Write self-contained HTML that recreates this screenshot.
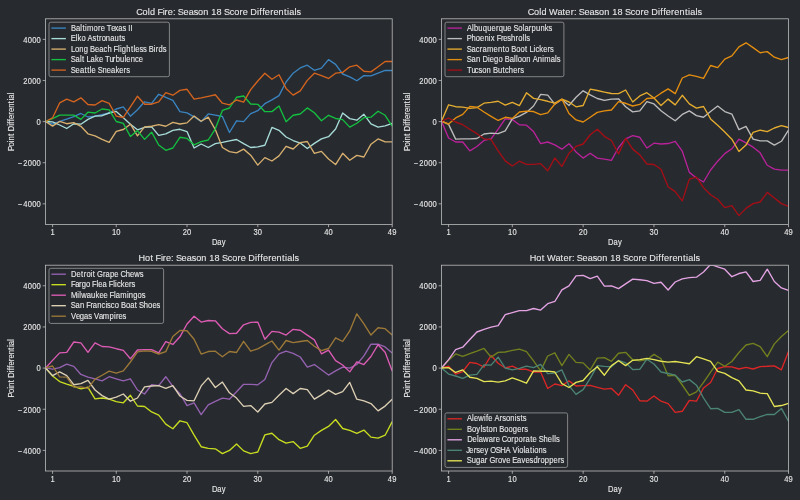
<!DOCTYPE html>
<html><head><meta charset="utf-8"><style>
html,body{margin:0;padding:0;background:#272a2f;width:800px;height:500px;overflow:hidden}
svg text{font-family:"Liberation Sans", sans-serif;stroke:#e8e8e8;stroke-width:0.1px}
</style></head><body>
<svg width="800" height="500" viewBox="0 0 800 500" style="display:block;will-change:transform"><rect width="800" height="500" fill="#272a2f"/><clipPath id="cTL"><rect x="45.5" y="18.8" width="346.70" height="205.60"/></clipPath><g fill="none" stroke-width="1.35" stroke-linejoin="round" stroke-linecap="butt" clip-path="url(#cTL)"><polyline points="45.50,121.48 52.58,124.20 59.65,121.48 66.73,119.08 73.80,116.68 80.88,113.48 87.95,117.00 95.03,116.20 102.10,114.60 109.18,113.00 116.26,109.00 123.33,106.92 130.41,116.20 137.48,109.80 144.56,101.80 151.63,103.40 158.71,94.28 165.78,97.48 172.86,100.48 179.93,111.68 187.01,112.80 194.09,116.80 201.16,121.60 208.24,113.92 215.31,115.20 222.39,116.48 229.46,132.48 236.54,120.80 243.61,121.60 250.69,113.60 257.77,110.72 264.84,103.68 271.92,99.92 278.99,95.60 286.07,82.00 293.14,73.20 300.22,67.92 307.29,65.20 314.37,70.32 321.44,68.08 328.52,59.60 335.60,64.40 342.67,74.00 349.75,76.88 356.82,80.72 363.90,75.60 370.97,75.92 378.05,73.20 385.12,70.48 392.20,70.48" stroke="#3a84c0"/><polyline points="45.50,121.48 52.58,121.80 59.65,125.00 66.73,128.52 73.80,123.72 80.88,124.20 87.95,119.40 95.03,116.20 102.10,115.72 109.18,113.00 116.26,111.40 123.33,117.80 130.41,124.20 137.48,129.80 144.56,127.40 151.63,126.92 158.71,135.40 165.78,133.80 172.86,130.40 179.93,129.28 187.01,131.52 194.09,148.00 201.16,144.00 208.24,147.52 215.31,143.68 222.39,142.40 229.46,140.80 236.54,139.52 243.61,143.68 250.69,147.52 257.77,146.88 264.84,145.28 271.92,127.40 278.99,130.28 286.07,137.00 293.14,140.52 300.22,143.08 307.29,148.52 314.37,143.40 321.44,138.92 328.52,136.68 335.60,129.00 342.67,113.00 349.75,118.60 356.82,120.20 363.90,114.28 370.97,123.88 378.05,127.08 385.12,125.80 392.20,123.40" stroke="#a8dcd8"/><polyline points="45.50,121.48 52.58,126.12 59.65,121.48 66.73,123.72 73.80,122.60 80.88,126.28 87.95,133.80 95.03,135.88 102.10,139.40 109.18,142.28 116.26,131.40 123.33,129.48 130.41,124.20 137.48,135.88 144.56,126.92 151.63,126.28 158.71,124.68 165.78,126.28 172.86,122.40 179.93,124.00 187.01,122.88 194.09,116.00 201.16,121.28 208.24,117.12 215.31,129.60 222.39,147.52 229.46,151.68 236.54,152.80 243.61,149.12 250.69,155.20 257.77,165.12 264.84,157.60 271.92,161.00 278.99,155.88 286.07,146.28 293.14,149.00 300.22,142.60 307.29,141.48 314.37,153.32 321.44,151.40 328.52,159.08 335.60,164.52 342.67,153.32 349.75,160.20 356.82,155.40 363.90,157.00 370.97,144.20 378.05,138.92 385.12,141.80 392.20,141.80" stroke="#d8b070"/><polyline points="45.50,121.48 52.58,118.60 59.65,115.08 66.73,115.08 73.80,115.08 80.88,119.40 87.95,112.20 95.03,113.00 102.10,109.00 109.18,109.80 116.26,121.48 123.33,123.40 130.41,136.52 137.48,130.60 144.56,139.40 151.63,132.20 158.71,145.00 165.78,150.28 172.86,148.00 179.93,137.28 187.01,138.40 194.09,144.80 201.16,141.60 208.24,140.00 215.31,128.80 222.39,110.40 229.46,108.00 236.54,97.28 243.61,96.00 250.69,104.00 257.77,104.32 264.84,111.68 271.92,111.60 278.99,106.00 286.07,121.68 293.14,115.28 300.22,114.00 307.29,107.92 314.37,112.72 321.44,120.72 328.52,115.28 335.60,118.48 342.67,119.60 349.75,127.12 356.82,123.28 363.90,117.68 370.97,117.20 378.05,111.28 385.12,115.28 392.20,126.16" stroke="#14c040"/><polyline points="45.50,121.48 52.58,117.80 59.65,102.92 66.73,99.08 73.80,101.80 80.88,97.80 87.95,104.52 95.03,105.00 102.10,100.68 109.18,103.40 116.26,116.20 123.33,117.48 130.41,106.76 137.48,96.20 144.56,104.20 151.63,104.20 158.71,101.80 165.78,92.68 172.86,95.20 179.93,90.40 187.01,89.28 194.09,99.20 201.16,97.92 208.24,96.32 215.31,94.72 222.39,103.20 229.46,104.80 236.54,100.00 243.61,102.08 250.69,89.60 257.77,81.00 264.84,73.20 271.92,79.28 278.99,74.80 286.07,88.40 293.14,95.12 300.22,90.80 307.29,80.40 314.37,73.20 321.44,75.60 328.52,78.48 335.60,73.20 342.67,72.40 349.75,66.80 356.82,65.20 363.90,71.28 370.97,71.92 378.05,66.80 385.12,61.52 392.20,61.52" stroke="#d4641e"/></g><rect x="45.5" y="18.8" width="346.70" height="205.60" fill="none" stroke="#bcbcbc" stroke-width="0.8"/><line x1="42.7" y1="39.36" x2="45.5" y2="39.36" stroke="#bcbcbc" stroke-width="0.8"/><g transform="translate(0 42.66) scale(1 1.08)"><text x="23.32 27.74 32.16 36.58" y="0" font-size="7.6" fill="#e8e8e8" >4000</text></g><line x1="42.7" y1="80.48" x2="45.5" y2="80.48" stroke="#bcbcbc" stroke-width="0.8"/><g transform="translate(0 83.78) scale(1 1.08)"><text x="23.32 27.74 32.16 36.58" y="0" font-size="7.6" fill="#e8e8e8" >2000</text></g><line x1="42.7" y1="121.60" x2="45.5" y2="121.60" stroke="#bcbcbc" stroke-width="0.8"/><g transform="translate(0 124.90) scale(1 1.08)"><text x="36.58" y="0" font-size="7.6" fill="#e8e8e8" >0</text></g><line x1="42.7" y1="162.72" x2="45.5" y2="162.72" stroke="#bcbcbc" stroke-width="0.8"/><g transform="translate(0 166.02) scale(1 1.08)"><text x="18.10 23.32 27.74 32.16 36.58" y="0" font-size="7.6" fill="#e8e8e8" >−2000</text></g><line x1="42.7" y1="203.84" x2="45.5" y2="203.84" stroke="#bcbcbc" stroke-width="0.8"/><g transform="translate(0 207.14) scale(1 1.08)"><text x="18.10 23.32 27.74 32.16 36.58" y="0" font-size="7.6" fill="#e8e8e8" >−4000</text></g><line x1="52.58" y1="224.4" x2="52.58" y2="227.20000000000002" stroke="#bcbcbc" stroke-width="0.8"/><g transform="translate(0 235.40) scale(1 1.08)"><text x="50.46" y="0" font-size="7.6" fill="#e8e8e8" >1</text></g><line x1="116.26" y1="224.4" x2="116.26" y2="227.20000000000002" stroke="#bcbcbc" stroke-width="0.8"/><g transform="translate(0 235.40) scale(1 1.08)"><text x="111.93 116.35" y="0" font-size="7.6" fill="#e8e8e8" >10</text></g><line x1="187.01" y1="224.4" x2="187.01" y2="227.20000000000002" stroke="#bcbcbc" stroke-width="0.8"/><g transform="translate(0 235.40) scale(1 1.08)"><text x="182.69 187.11" y="0" font-size="7.6" fill="#e8e8e8" >20</text></g><line x1="257.77" y1="224.4" x2="257.77" y2="227.20000000000002" stroke="#bcbcbc" stroke-width="0.8"/><g transform="translate(0 235.40) scale(1 1.08)"><text x="253.44 257.86" y="0" font-size="7.6" fill="#e8e8e8" >30</text></g><line x1="328.52" y1="224.4" x2="328.52" y2="227.20000000000002" stroke="#bcbcbc" stroke-width="0.8"/><g transform="translate(0 235.40) scale(1 1.08)"><text x="324.20 328.62" y="0" font-size="7.6" fill="#e8e8e8" >40</text></g><line x1="392.20" y1="224.4" x2="392.20" y2="227.20000000000002" stroke="#bcbcbc" stroke-width="0.8"/><g transform="translate(0 235.40) scale(1 1.08)"><text x="387.88 392.30" y="0" font-size="7.6" fill="#e8e8e8" >49</text></g><g transform="translate(0 244.90) scale(1 1.08)"><text x="211.92 217.36 221.75" y="0" font-size="7.6" fill="#e8e8e8" >Day</text></g><g transform="translate(0 14.50) scale(1 1.08)"><text x="136.36 142.57 147.80 150.08 155.32 157.52 162.85 164.61 167.87 172.92 175.65 177.84 183.56 188.67 193.65 198.12 203.31 208.54 211.25 216.55 221.79 223.99 229.68 234.27 239.55 242.81 247.78 250.29 256.93 259.30 262.24 264.87 270.16 273.43 278.45 283.99 287.03 289.22 294.45 296.52" y="0" font-size="9.1" fill="#e8e8e8" >Cold Fire: Season 18 Score Differentials</text></g><g transform="translate(13.50,121.60) rotate(-90)"><g transform="translate(0 0.00) scale(1 1.08)"><text x="-29.44 -24.80 -20.69 -18.79 -14.17 -11.71 -9.62 -4.08 -2.11 0.34 2.54 6.95 9.66 13.85 18.47 21.00 22.83 27.19" y="0" font-size="7.6" fill="#e8e8e8" >Point Differential</text></g></g><rect x="49.0" y="22.2" width="120.4" height="54.5" rx="1.8" fill="#272a2f" fill-opacity="0.8" stroke="#9a9a9a" stroke-width="0.8"/><line x1="51.4" y1="28.10" x2="65.9" y2="28.10" stroke="#3a84c0" stroke-width="1.35"/><g transform="translate(0 30.70) scale(1 1.08)"><text x="71.05 75.98 80.34 82.45 84.99 87.02 93.58 97.98 100.69 104.84 106.79 111.26 114.48 118.33 122.48 126.24 128.36 130.41" y="0" font-size="7.6" fill="#e8e8e8" >Baltimore Texas II</text></g><line x1="51.4" y1="38.60" x2="65.9" y2="38.60" stroke="#a8dcd8" stroke-width="1.35"/><g transform="translate(0 41.20) scale(1 1.08)"><text x="70.86 75.71 77.63 81.55 85.59 87.59 92.41 96.42 99.00 101.70 105.88 110.20 114.53 119.15 121.48" y="0" font-size="7.6" fill="#e8e8e8" >Elko Astronauts</text></g><line x1="51.4" y1="49.10" x2="65.9" y2="49.10" stroke="#d8b070" stroke-width="1.35"/><g transform="translate(0 51.70) scale(1 1.08)"><text x="71.02 75.08 79.28 83.69 88.05 90.06 95.00 99.26 103.51 107.41 111.77 113.60 118.04 119.97 121.87 126.28 130.90 133.43 135.27 139.42 143.04 146.80 148.80 153.84 155.81 158.60 162.70" y="0" font-size="7.6" fill="#e8e8e8" >Long Beach Flightless Birds</text></g><line x1="51.4" y1="59.60" x2="65.9" y2="59.60" stroke="#14c040" stroke-width="1.35"/><g transform="translate(0 62.20) scale(1 1.08)"><text x="70.87 75.62 79.98 82.10 84.56 86.54 90.61 94.96 98.89 102.94 104.90 109.43 112.85 115.63 120.04 124.47 126.30 130.64 134.96 138.79" y="0" font-size="7.6" fill="#e8e8e8" >Salt Lake Turbulence</text></g><line x1="51.4" y1="70.10" x2="65.9" y2="70.10" stroke="#d4641e" stroke-width="1.35"/><g transform="translate(0 72.70) scale(1 1.08)"><text x="70.87 75.63 79.89 84.44 87.16 89.70 91.53 95.83 97.66 102.48 106.82 111.08 115.44 119.37 123.53 126.14" y="0" font-size="7.6" fill="#e8e8e8" >Seattle Sneakers</text></g><clipPath id="cTR"><rect x="441.5" y="18.8" width="347.00" height="205.60"/></clipPath><g fill="none" stroke-width="1.35" stroke-linejoin="round" stroke-linecap="butt" clip-path="url(#cTR)"><polyline points="441.50,121.20 448.58,138.00 455.66,142.00 462.74,142.00 469.83,150.80 476.91,146.48 483.99,140.40 491.07,138.80 498.15,129.20 505.23,118.80 512.32,119.60 519.40,124.72 526.48,125.20 533.56,131.60 540.64,143.60 547.72,142.00 554.81,144.88 561.89,149.20 568.97,143.68 576.05,152.00 583.13,158.08 590.21,153.28 597.30,158.08 604.38,159.20 611.46,160.32 618.54,147.52 625.62,138.88 632.70,135.68 639.79,137.28 646.87,148.00 653.95,143.20 661.03,144.00 668.11,143.52 675.19,141.28 682.28,151.20 689.36,172.40 696.44,178.00 703.52,182.00 710.60,170.00 717.68,161.20 724.77,153.60 731.85,148.80 738.93,139.20 746.01,142.88 753.09,147.20 760.17,152.80 767.26,165.28 774.34,169.12 781.42,170.08 788.50,170.08" stroke="#b8229a"/><polyline points="441.50,121.20 448.58,124.40 455.66,139.12 462.74,138.80 469.83,138.80 476.91,138.48 483.99,134.00 491.07,133.20 498.15,133.68 505.23,130.80 512.32,118.80 519.40,116.08 526.48,112.40 533.56,106.00 540.64,94.40 547.72,95.20 554.81,104.20 561.89,99.50 568.97,105.52 576.05,97.20 583.13,90.80 590.21,94.80 597.30,98.48 604.38,100.40 611.46,99.12 618.54,98.80 625.62,106.80 632.70,111.92 639.79,110.80 646.87,101.68 653.95,103.92 661.03,110.80 668.11,116.00 675.19,120.80 682.28,114.40 689.36,110.88 696.44,115.68 703.52,117.28 710.60,111.52 717.68,106.08 724.77,111.52 731.85,114.08 738.93,129.60 746.01,126.40 753.09,139.20 760.17,140.80 767.26,140.80 774.34,145.12 781.42,141.28 788.50,130.08" stroke="#bcbcbc"/><polyline points="441.50,121.12 448.58,104.80 455.66,106.72 462.74,107.20 469.83,108.32 476.91,107.68 483.99,103.20 491.07,102.40 498.15,101.28 505.23,105.12 512.32,102.40 519.40,105.60 526.48,92.80 533.56,98.40 540.64,99.68 547.72,101.28 554.81,103.20 561.89,99.20 568.97,102.00 576.05,106.80 583.13,105.52 590.21,89.20 597.30,90.48 604.38,92.08 611.46,93.52 618.54,93.68 625.62,90.00 632.70,102.00 639.79,95.92 646.87,92.72 653.95,98.00 661.03,105.52 668.11,99.12 675.19,104.88 682.28,95.28 689.36,103.92 696.44,108.08 703.52,106.48 710.60,118.88 717.68,125.28 724.77,132.00 731.85,139.20 738.93,151.52 746.01,145.12 753.09,132.32 760.17,130.08 767.26,131.68 774.34,128.00 781.42,125.60 788.50,127.52" stroke="#e4ac30"/><polyline points="441.50,121.12 448.58,124.00 455.66,117.92 462.74,114.40 469.83,106.40 476.91,107.20 483.99,112.00 491.07,116.32 498.15,120.48 505.23,117.28 512.32,118.40 519.40,112.00 526.48,111.20 533.56,111.52 540.64,114.72 547.72,112.80 554.81,104.00 561.89,99.20 568.97,113.52 576.05,119.92 583.13,122.00 590.21,117.20 597.30,112.40 604.38,110.80 611.46,110.00 618.54,101.68 625.62,103.28 632.70,106.00 639.79,104.40 646.87,98.48 653.95,98.00 661.03,93.20 668.11,88.88 675.19,93.68 682.28,78.00 689.36,74.80 696.44,76.40 703.52,78.32 710.60,65.52 717.68,67.60 724.77,59.12 731.85,55.92 738.93,46.80 746.01,42.80 753.09,47.60 760.17,52.72 767.26,51.60 774.34,57.20 781.42,59.60 788.50,57.52" stroke="#e48e10"/><polyline points="441.50,121.20 448.58,118.00 455.66,122.00 462.74,124.72 469.83,129.20 476.91,133.68 483.99,138.80 491.07,139.60 498.15,150.80 505.23,160.88 512.32,166.00 519.40,161.20 526.48,164.40 533.56,164.40 540.64,163.60 547.72,170.80 554.81,158.00 561.89,166.32 568.97,153.28 576.05,146.40 583.13,144.00 590.21,134.72 597.30,129.28 604.38,136.32 611.46,140.48 618.54,153.92 625.62,138.40 632.70,149.12 639.79,154.88 646.87,164.00 653.95,164.48 661.03,169.28 668.11,186.80 675.19,191.60 682.28,200.88 689.36,179.12 696.44,177.20 703.52,187.60 710.60,194.80 717.68,199.28 724.77,207.60 731.85,205.68 738.93,215.60 746.01,208.40 753.09,203.60 760.17,202.00 767.26,192.40 774.34,198.00 781.42,203.60 788.50,206.32" stroke="#a40e16"/></g><rect x="441.5" y="18.8" width="347.00" height="205.60" fill="none" stroke="#bcbcbc" stroke-width="0.8"/><line x1="438.7" y1="39.36" x2="441.5" y2="39.36" stroke="#bcbcbc" stroke-width="0.8"/><g transform="translate(0 42.66) scale(1 1.08)"><text x="419.32 423.74 428.16 432.58" y="0" font-size="7.6" fill="#e8e8e8" >4000</text></g><line x1="438.7" y1="80.48" x2="441.5" y2="80.48" stroke="#bcbcbc" stroke-width="0.8"/><g transform="translate(0 83.78) scale(1 1.08)"><text x="419.32 423.74 428.16 432.58" y="0" font-size="7.6" fill="#e8e8e8" >2000</text></g><line x1="438.7" y1="121.60" x2="441.5" y2="121.60" stroke="#bcbcbc" stroke-width="0.8"/><g transform="translate(0 124.90) scale(1 1.08)"><text x="432.58" y="0" font-size="7.6" fill="#e8e8e8" >0</text></g><line x1="438.7" y1="162.72" x2="441.5" y2="162.72" stroke="#bcbcbc" stroke-width="0.8"/><g transform="translate(0 166.02) scale(1 1.08)"><text x="414.10 419.32 423.74 428.16 432.58" y="0" font-size="7.6" fill="#e8e8e8" >−2000</text></g><line x1="438.7" y1="203.84" x2="441.5" y2="203.84" stroke="#bcbcbc" stroke-width="0.8"/><g transform="translate(0 207.14) scale(1 1.08)"><text x="414.10 419.32 423.74 428.16 432.58" y="0" font-size="7.6" fill="#e8e8e8" >−4000</text></g><line x1="448.58" y1="224.4" x2="448.58" y2="227.20000000000002" stroke="#bcbcbc" stroke-width="0.8"/><g transform="translate(0 235.40) scale(1 1.08)"><text x="446.47" y="0" font-size="7.6" fill="#e8e8e8" >1</text></g><line x1="512.32" y1="224.4" x2="512.32" y2="227.20000000000002" stroke="#bcbcbc" stroke-width="0.8"/><g transform="translate(0 235.40) scale(1 1.08)"><text x="507.99 512.41" y="0" font-size="7.6" fill="#e8e8e8" >10</text></g><line x1="583.13" y1="224.4" x2="583.13" y2="227.20000000000002" stroke="#bcbcbc" stroke-width="0.8"/><g transform="translate(0 235.40) scale(1 1.08)"><text x="578.81 583.23" y="0" font-size="7.6" fill="#e8e8e8" >20</text></g><line x1="653.95" y1="224.4" x2="653.95" y2="227.20000000000002" stroke="#bcbcbc" stroke-width="0.8"/><g transform="translate(0 235.40) scale(1 1.08)"><text x="649.63 654.04" y="0" font-size="7.6" fill="#e8e8e8" >30</text></g><line x1="724.77" y1="224.4" x2="724.77" y2="227.20000000000002" stroke="#bcbcbc" stroke-width="0.8"/><g transform="translate(0 235.40) scale(1 1.08)"><text x="720.44 724.86" y="0" font-size="7.6" fill="#e8e8e8" >40</text></g><line x1="788.50" y1="224.4" x2="788.50" y2="227.20000000000002" stroke="#bcbcbc" stroke-width="0.8"/><g transform="translate(0 235.40) scale(1 1.08)"><text x="784.18 788.60" y="0" font-size="7.6" fill="#e8e8e8" >49</text></g><g transform="translate(0 244.90) scale(1 1.08)"><text x="608.07 613.51 617.90" y="0" font-size="7.6" fill="#e8e8e8" >Day</text></g><g transform="translate(0 14.50) scale(1 1.08)"><text x="527.70 533.92 539.14 541.43 546.66 549.07 557.51 562.43 565.36 570.65 574.02 576.60 578.80 584.51 589.63 594.61 599.07 604.26 609.50 612.20 617.51 622.75 624.95 630.64 635.23 640.50 643.77 648.74 651.25 657.89 660.26 663.19 665.83 671.12 674.38 679.40 684.95 687.99 690.18 695.41 697.48" y="0" font-size="9.1" fill="#e8e8e8" >Cold Water: Season 18 Score Differentials</text></g><g transform="translate(409.50,121.60) rotate(-90)"><g transform="translate(0 0.00) scale(1 1.08)"><text x="-29.44 -24.80 -20.69 -18.79 -14.17 -11.71 -9.62 -4.08 -2.11 0.34 2.54 6.95 9.66 13.85 18.47 21.00 22.83 27.19" y="0" font-size="7.6" fill="#e8e8e8" >Point Differential</text></g></g><rect x="445.0" y="22.2" width="118.9" height="54.5" rx="1.8" fill="#272a2f" fill-opacity="0.8" stroke="#9a9a9a" stroke-width="0.8"/><line x1="447.4" y1="28.10" x2="461.9" y2="28.10" stroke="#b8229a" stroke-width="1.35"/><g transform="translate(0 30.70) scale(1 1.08)"><text x="467.04 472.07 473.97 478.37 482.78 487.18 491.52 495.93 498.71 503.00 507.33 511.63 513.46 518.21 522.57 524.39 528.79 531.58 535.98 540.38 544.81 548.63" y="0" font-size="7.6" fill="#e8e8e8" >Albuquerque Solarpunks</text></g><line x1="447.4" y1="38.60" x2="461.9" y2="38.60" stroke="#bcbcbc" stroke-width="1.35"/><g transform="translate(0 41.20) scale(1 1.08)"><text x="466.76 471.47 475.80 480.06 484.40 488.83 490.79 494.80 496.63 501.11 503.32 507.33 511.12 515.60 518.30 522.51 524.44 526.16" y="0" font-size="7.6" fill="#e8e8e8" >Phoenix Freshrolls</text></g><line x1="447.4" y1="49.10" x2="461.9" y2="49.10" stroke="#e4ac30" stroke-width="1.35"/><g transform="translate(0 51.70) scale(1 1.08)"><text x="466.87 471.62 475.87 479.84 482.55 487.01 493.58 497.91 502.53 504.96 509.25 511.25 516.18 520.43 524.97 527.44 529.42 533.59 535.40 539.32 543.26 547.42 550.02" y="0" font-size="7.6" fill="#e8e8e8" >Sacramento Boot Lickers</text></g><line x1="447.4" y1="59.60" x2="461.9" y2="59.60" stroke="#e48e10" stroke-width="1.35"/><g transform="translate(0 62.20) scale(1 1.08)"><text x="466.87 471.62 475.95 480.31 482.40 487.94 489.77 494.11 498.44 502.72 504.73 509.66 514.02 515.95 517.77 522.02 526.35 530.71 532.71 537.70 542.14 544.16 550.73 555.09 556.80" y="0" font-size="7.6" fill="#e8e8e8" >San Diego Balloon Animals</text></g><line x1="447.4" y1="70.10" x2="461.9" y2="70.10" stroke="#a40e16" stroke-width="1.35"/><g transform="translate(0 72.70) scale(1 1.08)"><text x="467.00 471.53 474.80 478.52 482.23 486.56 490.92 492.93 497.93 502.55 504.98 508.87 513.21 517.62 520.22" y="0" font-size="7.6" fill="#e8e8e8" >Tucson Butchers</text></g><clipPath id="cBL"><rect x="45.5" y="265.2" width="346.70" height="205.80"/></clipPath><g fill="none" stroke-width="1.35" stroke-linejoin="round" stroke-linecap="butt" clip-path="url(#cBL)"><polyline points="45.50,367.92 52.58,369.20 59.65,367.60 66.73,364.08 73.80,366.32 80.88,374.48 87.95,377.20 95.03,378.80 102.10,380.88 109.18,376.72 116.26,378.80 123.33,380.88 130.41,378.80 137.48,390.00 144.56,394.00 151.63,384.72 158.71,385.68 165.78,376.72 172.86,386.40 179.93,393.60 187.01,405.60 194.09,402.88 201.16,414.72 208.24,404.80 215.31,401.28 222.39,398.08 229.46,399.20 236.54,391.68 243.61,384.32 250.69,384.32 257.77,384.80 264.84,379.52 271.92,362.60 278.99,353.80 286.07,351.08 293.14,353.32 300.22,357.00 307.29,367.08 314.37,364.52 321.44,369.80 328.52,375.08 335.60,370.92 342.67,367.08 349.75,368.20 356.82,364.52 363.90,355.88 370.97,344.20 378.05,344.20 385.12,346.92 392.20,353.00" stroke="#9462b0"/><polyline points="45.50,367.92 52.58,376.08 59.65,381.52 66.73,384.08 73.80,386.32 80.88,388.88 87.95,387.28 95.03,398.80 102.10,398.00 109.18,399.12 116.26,401.68 123.33,402.80 130.41,395.28 137.48,406.00 144.56,406.48 151.63,411.92 158.71,415.12 165.78,424.08 172.86,428.80 179.93,420.80 187.01,422.72 194.09,435.20 201.16,446.72 208.24,448.32 215.31,448.80 222.39,453.60 229.46,450.40 236.54,444.00 243.61,450.88 250.69,453.60 257.77,452.00 264.84,434.88 271.92,433.28 278.99,439.68 286.07,443.20 293.14,441.60 300.22,448.32 307.29,446.08 314.37,435.20 321.44,430.40 328.52,426.40 335.60,419.52 342.67,428.48 349.75,430.40 356.82,433.28 363.90,430.08 370.97,437.12 378.05,438.08 385.12,435.20 392.20,421.60" stroke="#c8dc20"/><polyline points="45.50,367.92 52.58,360.40 59.65,352.88 66.73,352.40 73.80,342.00 80.88,342.80 87.95,352.40 95.03,342.80 102.10,346.48 109.18,346.80 116.26,348.72 123.33,350.32 130.41,358.80 137.48,350.00 144.56,349.68 151.63,349.68 158.71,352.88 165.78,341.68 172.86,344.48 179.93,336.80 187.01,324.00 194.09,316.32 201.16,322.08 208.24,320.48 215.31,320.80 222.39,328.80 229.46,333.60 236.54,333.28 243.61,324.80 250.69,322.40 257.77,322.08 264.84,339.20 271.92,331.40 278.99,332.20 286.07,335.08 293.14,329.32 300.22,330.28 307.29,335.08 314.37,339.88 321.44,353.80 328.52,350.12 335.60,360.68 342.67,365.00 349.75,371.88 356.82,361.80 363.90,364.52 370.97,356.52 378.05,344.68 385.12,352.20 392.20,370.92" stroke="#dc5cb4"/><polyline points="45.50,367.92 52.58,375.60 59.65,371.92 66.73,375.60 73.80,384.72 80.88,383.60 87.95,380.40 95.03,390.00 102.10,395.60 109.18,399.12 116.26,397.20 123.33,394.00 130.41,401.20 137.48,398.00 144.56,386.80 151.63,386.00 158.71,385.68 165.78,388.40 172.86,385.60 179.93,396.00 187.01,400.32 194.09,400.80 201.16,385.92 208.24,377.92 215.31,387.52 222.39,382.08 229.46,392.80 236.54,398.08 243.61,406.40 250.69,405.60 257.77,412.00 264.84,404.00 271.92,402.40 278.99,395.20 286.07,388.48 293.14,393.60 300.22,388.48 307.29,389.60 314.37,399.20 321.44,394.88 328.52,390.08 335.60,394.40 342.67,391.68 349.75,382.40 356.82,399.20 363.90,400.80 370.97,403.52 378.05,410.88 385.12,406.08 392.20,399.20" stroke="#dccfb4"/><polyline points="45.50,367.92 52.58,366.00 59.65,376.88 66.73,377.20 73.80,387.12 80.88,386.80 87.95,388.40 95.03,379.12 102.10,375.28 109.18,371.12 116.26,373.20 123.33,370.80 130.41,362.00 137.48,351.92 144.56,350.80 151.63,351.28 158.71,354.00 165.78,351.60 172.86,336.48 179.93,330.40 187.01,330.72 194.09,339.20 201.16,354.08 208.24,351.52 215.31,351.20 222.39,356.80 229.46,351.52 236.54,352.48 243.61,341.28 250.69,351.20 257.77,348.80 264.84,344.80 271.92,341.00 278.99,350.12 286.07,340.52 293.14,342.60 300.22,341.48 307.29,340.52 314.37,346.28 321.44,350.60 328.52,348.52 335.60,337.80 342.67,341.48 349.75,330.92 356.82,313.80 363.90,323.88 370.97,335.08 378.05,327.72 385.12,328.68 392.20,335.08" stroke="#9c7838"/></g><rect x="45.5" y="265.2" width="346.70" height="205.80" fill="none" stroke="#bcbcbc" stroke-width="0.8"/><line x1="42.7" y1="285.78" x2="45.5" y2="285.78" stroke="#bcbcbc" stroke-width="0.8"/><g transform="translate(0 289.08) scale(1 1.08)"><text x="23.32 27.74 32.16 36.58" y="0" font-size="7.6" fill="#e8e8e8" >4000</text></g><line x1="42.7" y1="326.94" x2="45.5" y2="326.94" stroke="#bcbcbc" stroke-width="0.8"/><g transform="translate(0 330.24) scale(1 1.08)"><text x="23.32 27.74 32.16 36.58" y="0" font-size="7.6" fill="#e8e8e8" >2000</text></g><line x1="42.7" y1="368.10" x2="45.5" y2="368.10" stroke="#bcbcbc" stroke-width="0.8"/><g transform="translate(0 371.40) scale(1 1.08)"><text x="36.58" y="0" font-size="7.6" fill="#e8e8e8" >0</text></g><line x1="42.7" y1="409.26" x2="45.5" y2="409.26" stroke="#bcbcbc" stroke-width="0.8"/><g transform="translate(0 412.56) scale(1 1.08)"><text x="18.10 23.32 27.74 32.16 36.58" y="0" font-size="7.6" fill="#e8e8e8" >−2000</text></g><line x1="42.7" y1="450.42" x2="45.5" y2="450.42" stroke="#bcbcbc" stroke-width="0.8"/><g transform="translate(0 453.72) scale(1 1.08)"><text x="18.10 23.32 27.74 32.16 36.58" y="0" font-size="7.6" fill="#e8e8e8" >−4000</text></g><line x1="52.58" y1="471.0" x2="52.58" y2="473.8" stroke="#bcbcbc" stroke-width="0.8"/><g transform="translate(0 482.00) scale(1 1.08)"><text x="50.46" y="0" font-size="7.6" fill="#e8e8e8" >1</text></g><line x1="116.26" y1="471.0" x2="116.26" y2="473.8" stroke="#bcbcbc" stroke-width="0.8"/><g transform="translate(0 482.00) scale(1 1.08)"><text x="111.93 116.35" y="0" font-size="7.6" fill="#e8e8e8" >10</text></g><line x1="187.01" y1="471.0" x2="187.01" y2="473.8" stroke="#bcbcbc" stroke-width="0.8"/><g transform="translate(0 482.00) scale(1 1.08)"><text x="182.69 187.11" y="0" font-size="7.6" fill="#e8e8e8" >20</text></g><line x1="257.77" y1="471.0" x2="257.77" y2="473.8" stroke="#bcbcbc" stroke-width="0.8"/><g transform="translate(0 482.00) scale(1 1.08)"><text x="253.44 257.86" y="0" font-size="7.6" fill="#e8e8e8" >30</text></g><line x1="328.52" y1="471.0" x2="328.52" y2="473.8" stroke="#bcbcbc" stroke-width="0.8"/><g transform="translate(0 482.00) scale(1 1.08)"><text x="324.20 328.62" y="0" font-size="7.6" fill="#e8e8e8" >40</text></g><line x1="392.20" y1="471.0" x2="392.20" y2="473.8" stroke="#bcbcbc" stroke-width="0.8"/><g transform="translate(0 482.00) scale(1 1.08)"><text x="387.88 392.30" y="0" font-size="7.6" fill="#e8e8e8" >49</text></g><g transform="translate(0 491.50) scale(1 1.08)"><text x="211.92 217.36 221.75" y="0" font-size="7.6" fill="#e8e8e8" >Day</text></g><g transform="translate(0 260.90) scale(1 1.08)"><text x="138.53 144.97 150.41 153.37 155.58 160.90 162.66 165.92 170.97 173.70 175.90 181.61 186.73 191.71 196.17 201.36 206.59 209.30 214.60 219.85 222.04 227.74 232.32 237.60 240.86 245.83 248.35 254.99 257.36 260.29 262.93 268.22 271.48 276.50 282.04 285.09 287.28 292.51 294.57" y="0" font-size="9.1" fill="#e8e8e8" >Hot Fire: Season 18 Score Differentials</text></g><g transform="translate(13.50,368.10) rotate(-90)"><g transform="translate(0 0.00) scale(1 1.08)"><text x="-29.44 -24.80 -20.69 -18.79 -14.17 -11.71 -9.62 -4.08 -2.11 0.34 2.54 6.95 9.66 13.85 18.47 21.00 22.83 27.19" y="0" font-size="7.6" fill="#e8e8e8" >Point Differential</text></g></g><rect x="49.0" y="268.3" width="114.6" height="55.1" rx="1.8" fill="#272a2f" fill-opacity="0.8" stroke="#9a9a9a" stroke-width="0.8"/><line x1="51.4" y1="274.20" x2="65.9" y2="274.20" stroke="#9462b0" stroke-width="1.35"/><g transform="translate(0 276.80) scale(1 1.08)"><text x="71.13 76.57 81.12 83.70 86.41 90.61 92.73 95.19 97.09 102.89 105.60 109.93 114.27 118.57 120.41 125.67 130.00 134.35 139.84" y="0" font-size="7.6" fill="#e8e8e8" >Detroit Grape Chews</text></g><line x1="51.4" y1="284.70" x2="65.9" y2="284.70" stroke="#c8dc20" stroke-width="1.35"/><g transform="translate(0 287.30) scale(1 1.08)"><text x="70.88 75.21 78.97 81.76 85.96 90.25 92.08 96.52 98.35 102.62 106.91 108.74 113.18 115.11 116.93 120.85 124.78 128.95 131.55" y="0" font-size="7.6" fill="#e8e8e8" >Fargo Flea Flickers</text></g><line x1="51.4" y1="295.20" x2="65.9" y2="295.20" stroke="#dc5cb4" stroke-width="1.35"/><g transform="translate(0 297.80) scale(1 1.08)"><text x="71.03 77.31 79.24 81.15 86.74 91.07 95.50 99.43 103.45 107.75 109.59 114.03 115.85 120.31 126.97 128.87 133.27 137.60 141.75" y="0" font-size="7.6" fill="#e8e8e8" >Milwaukee Flamingos</text></g><line x1="51.4" y1="305.70" x2="65.9" y2="305.70" stroke="#dccfb4" stroke-width="1.35"/><g transform="translate(0 308.30) scale(1 1.08)"><text x="70.87 75.62 79.95 84.31 86.15 90.63 92.83 97.16 101.48 105.41 107.13 110.85 114.67 118.95 120.96 125.89 130.14 134.68 137.15 138.98 143.80 148.13 152.39 156.55" y="0" font-size="7.6" fill="#e8e8e8" >San Francisco Boat Shoes</text></g><line x1="51.4" y1="316.20" x2="65.9" y2="316.20" stroke="#9c7838" stroke-width="1.35"/><g transform="translate(0 318.80) scale(1 1.08)"><text x="71.04 75.97 79.77 84.11 88.26 92.01 94.01 98.94 102.85 109.49 113.93 115.90 118.62 122.62" y="0" font-size="7.6" fill="#e8e8e8" >Vegas Vampires</text></g><clipPath id="cBR"><rect x="441.5" y="265.2" width="347.00" height="205.80"/></clipPath><g fill="none" stroke-width="1.35" stroke-linejoin="round" stroke-linecap="butt" clip-path="url(#cBR)"><polyline points="441.50,368.00 448.58,366.08 455.66,374.08 462.74,371.52 469.83,362.40 476.91,363.52 483.99,367.20 491.07,355.52 498.15,363.20 505.23,368.00 512.32,366.08 519.40,369.28 526.48,369.28 533.56,372.00 540.64,372.00 547.72,388.48 554.81,384.00 561.89,385.60 568.97,380.88 576.05,386.00 583.13,385.68 590.21,385.36 597.30,387.28 604.38,389.20 611.46,388.40 618.54,395.28 625.62,384.72 632.70,390.00 639.79,400.72 646.87,401.20 653.95,395.92 661.03,401.20 668.11,403.60 675.19,412.40 682.28,411.28 689.36,400.40 696.44,401.20 703.52,387.92 710.60,382.48 717.68,368.52 724.77,366.60 731.85,366.92 738.93,369.00 746.01,367.40 753.09,369.00 760.17,366.60 767.26,366.28 774.34,365.80 781.42,369.80 788.50,351.40" stroke="#dc2626"/><polyline points="441.50,368.00 448.58,360.32 455.66,353.92 462.74,356.48 469.83,353.60 476.91,351.20 483.99,348.48 491.07,357.12 498.15,352.32 505.23,352.00 512.32,350.40 519.40,349.12 526.48,351.68 533.56,360.80 540.64,370.88 547.72,356.00 554.81,352.80 561.89,365.60 568.97,354.40 576.05,362.40 583.13,362.88 590.21,369.92 597.30,358.08 604.38,357.60 611.46,361.28 618.54,353.28 625.62,352.32 632.70,359.68 639.79,360.80 646.87,359.68 653.95,354.40 661.03,358.72 668.11,375.72 675.19,375.24 682.28,385.00 689.36,395.40 696.44,391.88 703.52,382.28 710.60,372.20 717.68,362.12 724.77,366.28 731.85,361.48 738.93,352.52 746.01,345.00 753.09,343.40 760.17,346.60 767.26,356.68 774.34,343.88 781.42,336.52 788.50,330.60" stroke="#72801e"/><polyline points="441.50,368.00 448.58,359.68 455.66,349.60 462.74,347.20 469.83,339.52 476.91,332.00 483.99,329.28 491.07,327.20 498.15,325.60 505.23,314.60 512.32,312.68 519.40,310.60 526.48,310.60 533.56,308.52 540.64,310.12 547.72,303.72 554.81,301.48 561.89,289.80 568.97,285.80 576.05,275.88 583.13,275.40 590.21,278.60 597.30,276.20 604.38,286.12 611.46,285.80 618.54,288.68 625.62,283.88 632.70,279.08 639.79,279.72 646.87,280.68 653.95,283.40 661.03,282.28 668.11,290.00 675.19,282.00 682.28,278.80 689.36,277.68 696.44,277.20 703.52,271.92 710.60,264.40 717.68,266.80 724.77,269.20 731.85,276.72 738.93,273.52 746.01,271.92 753.09,281.52 760.17,280.40 767.26,269.20 774.34,281.52 781.42,287.92 788.50,290.48" stroke="#e4a4e4"/><polyline points="441.50,368.00 448.58,374.08 455.66,376.00 462.74,378.40 469.83,375.20 476.91,374.40 483.99,364.80 491.07,365.12 498.15,357.12 505.23,368.00 512.32,369.92 519.40,368.32 526.48,366.08 533.56,367.68 540.64,364.48 547.72,373.60 554.81,373.12 561.89,369.92 568.97,385.60 576.05,394.40 583.13,389.60 590.21,378.40 597.30,365.60 604.38,366.40 611.46,366.72 618.54,360.32 625.62,362.88 632.70,369.60 639.79,369.28 646.87,359.20 653.95,364.00 661.03,372.00 668.11,373.52 675.19,375.12 682.28,382.00 689.36,379.60 696.44,385.20 703.52,398.00 710.60,408.72 717.68,408.40 724.77,412.40 731.85,412.40 738.93,409.68 746.01,419.28 753.09,419.28 760.17,416.72 767.26,414.48 774.34,414.48 781.42,408.40 788.50,421.20" stroke="#4c8474"/><polyline points="441.50,368.00 448.58,367.68 455.66,372.48 462.74,369.92 469.83,377.28 476.91,378.40 483.99,381.60 491.07,381.12 498.15,382.08 505.23,380.80 512.32,377.92 519.40,380.48 526.48,383.20 533.56,370.88 540.64,371.20 547.72,371.20 554.81,372.00 561.89,383.68 568.97,387.52 576.05,382.40 583.13,380.48 590.21,372.48 597.30,366.72 604.38,375.20 611.46,365.60 618.54,360.80 625.62,365.60 632.70,360.32 639.79,359.68 646.87,358.40 653.95,359.68 661.03,361.28 668.11,362.12 675.19,361.48 682.28,362.60 689.36,363.72 696.44,356.68 703.52,358.92 710.60,361.48 717.68,371.40 724.77,373.32 731.85,377.68 738.93,380.88 746.01,390.00 753.09,390.80 760.17,393.20 767.26,393.68 774.34,406.48 781.42,405.52 788.50,403.28" stroke="#e4e454"/></g><rect x="441.5" y="265.2" width="347.00" height="205.80" fill="none" stroke="#bcbcbc" stroke-width="0.8"/><line x1="438.7" y1="285.78" x2="441.5" y2="285.78" stroke="#bcbcbc" stroke-width="0.8"/><g transform="translate(0 289.08) scale(1 1.08)"><text x="419.32 423.74 428.16 432.58" y="0" font-size="7.6" fill="#e8e8e8" >4000</text></g><line x1="438.7" y1="326.94" x2="441.5" y2="326.94" stroke="#bcbcbc" stroke-width="0.8"/><g transform="translate(0 330.24) scale(1 1.08)"><text x="419.32 423.74 428.16 432.58" y="0" font-size="7.6" fill="#e8e8e8" >2000</text></g><line x1="438.7" y1="368.10" x2="441.5" y2="368.10" stroke="#bcbcbc" stroke-width="0.8"/><g transform="translate(0 371.40) scale(1 1.08)"><text x="432.58" y="0" font-size="7.6" fill="#e8e8e8" >0</text></g><line x1="438.7" y1="409.26" x2="441.5" y2="409.26" stroke="#bcbcbc" stroke-width="0.8"/><g transform="translate(0 412.56) scale(1 1.08)"><text x="414.10 419.32 423.74 428.16 432.58" y="0" font-size="7.6" fill="#e8e8e8" >−2000</text></g><line x1="438.7" y1="450.42" x2="441.5" y2="450.42" stroke="#bcbcbc" stroke-width="0.8"/><g transform="translate(0 453.72) scale(1 1.08)"><text x="414.10 419.32 423.74 428.16 432.58" y="0" font-size="7.6" fill="#e8e8e8" >−4000</text></g><line x1="448.58" y1="471.0" x2="448.58" y2="473.8" stroke="#bcbcbc" stroke-width="0.8"/><g transform="translate(0 482.00) scale(1 1.08)"><text x="446.47" y="0" font-size="7.6" fill="#e8e8e8" >1</text></g><line x1="512.32" y1="471.0" x2="512.32" y2="473.8" stroke="#bcbcbc" stroke-width="0.8"/><g transform="translate(0 482.00) scale(1 1.08)"><text x="507.99 512.41" y="0" font-size="7.6" fill="#e8e8e8" >10</text></g><line x1="583.13" y1="471.0" x2="583.13" y2="473.8" stroke="#bcbcbc" stroke-width="0.8"/><g transform="translate(0 482.00) scale(1 1.08)"><text x="578.81 583.23" y="0" font-size="7.6" fill="#e8e8e8" >20</text></g><line x1="653.95" y1="471.0" x2="653.95" y2="473.8" stroke="#bcbcbc" stroke-width="0.8"/><g transform="translate(0 482.00) scale(1 1.08)"><text x="649.63 654.04" y="0" font-size="7.6" fill="#e8e8e8" >30</text></g><line x1="724.77" y1="471.0" x2="724.77" y2="473.8" stroke="#bcbcbc" stroke-width="0.8"/><g transform="translate(0 482.00) scale(1 1.08)"><text x="720.44 724.86" y="0" font-size="7.6" fill="#e8e8e8" >40</text></g><line x1="788.50" y1="471.0" x2="788.50" y2="473.8" stroke="#bcbcbc" stroke-width="0.8"/><g transform="translate(0 482.00) scale(1 1.08)"><text x="784.18 788.60" y="0" font-size="7.6" fill="#e8e8e8" >49</text></g><g transform="translate(0 491.50) scale(1 1.08)"><text x="608.07 613.51 617.90" y="0" font-size="7.6" fill="#e8e8e8" >Day</text></g><g transform="translate(0 260.90) scale(1 1.08)"><text x="529.87 536.31 541.76 544.72 547.13 555.57 560.49 563.42 568.71 572.08 574.66 576.86 582.57 587.69 592.67 597.13 602.32 607.55 610.26 615.56 620.80 623.00 628.70 633.28 638.56 641.82 646.79 649.30 655.94 658.31 661.25 663.89 669.18 672.44 677.46 683.00 686.04 688.24 693.47 695.53" y="0" font-size="9.1" fill="#e8e8e8" >Hot Water: Season 18 Score Differentials</text></g><g transform="translate(409.50,368.10) rotate(-90)"><g transform="translate(0 0.00) scale(1 1.08)"><text x="-29.44 -24.80 -20.69 -18.79 -14.17 -11.71 -9.62 -4.08 -2.11 0.34 2.54 6.95 9.66 13.85 18.47 21.00 22.83 27.19" y="0" font-size="7.6" fill="#e8e8e8" >Point Differential</text></g></g><rect x="445.0" y="412.9" width="122.6" height="54.5" rx="1.8" fill="#272a2f" fill-opacity="0.8" stroke="#9a9a9a" stroke-width="0.8"/><line x1="447.4" y1="418.80" x2="461.9" y2="418.80" stroke="#dc2626" stroke-width="1.35"/><g transform="translate(0 421.40) scale(1 1.08)"><text x="467.04 472.07 473.90 478.25 483.95 485.93 488.23 492.52 494.52 499.60 502.20 505.92 510.24 514.68 516.40 520.41 522.74" y="0" font-size="7.6" fill="#e8e8e8" >Alewife Arsonists</text></g><line x1="447.4" y1="429.30" x2="461.9" y2="429.30" stroke="#72801e" stroke-width="1.35"/><g transform="translate(0 431.90) scale(1 1.08)"><text x="467.05 471.97 476.37 480.44 482.16 486.17 488.60 492.93 497.29 499.30 504.22 508.47 512.80 517.14 521.55 524.15" y="0" font-size="7.6" fill="#e8e8e8" >Boylston Boogers</text></g><line x1="447.4" y1="439.80" x2="461.9" y2="439.80" stroke="#e4a4e4" stroke-width="1.35"/><g transform="translate(0 442.40) scale(1 1.08)"><text x="467.13 472.57 476.94 478.76 483.10 488.70 493.10 495.82 499.96 501.80 506.98 511.38 514.16 518.49 522.89 525.60 530.14 532.58 536.88 538.71 543.54 547.87 552.24 554.17 555.89" y="0" font-size="7.6" fill="#e8e8e8" >Delaware Corporate Shells</text></g><line x1="447.4" y1="450.30" x2="461.9" y2="450.30" stroke="#4c8474" stroke-width="1.35"/><g transform="translate(0 452.90) scale(1 1.08)"><text x="466.32 469.27 473.68 476.28 480.02 484.42 488.42 490.36 495.72 500.32 505.52 510.48 512.48 517.51 519.17 523.53 525.35 529.90 532.44 534.26 538.58 542.80" y="0" font-size="7.6" fill="#e8e8e8" >Jersey OSHA Violations</text></g><line x1="447.4" y1="460.80" x2="461.9" y2="460.80" stroke="#e4e454" stroke-width="1.35"/><g transform="translate(0 463.40) scale(1 1.08)"><text x="466.87 471.69 476.10 480.43 484.83 487.57 489.47 495.28 497.98 502.22 506.20 510.50 512.31 517.06 521.45 525.43 529.59 533.39 537.87 540.57 544.75 549.15 553.49 557.91 560.51" y="0" font-size="7.6" fill="#e8e8e8" >Sugar Grove Eavesdroppers</text></g></svg>
</body></html>
